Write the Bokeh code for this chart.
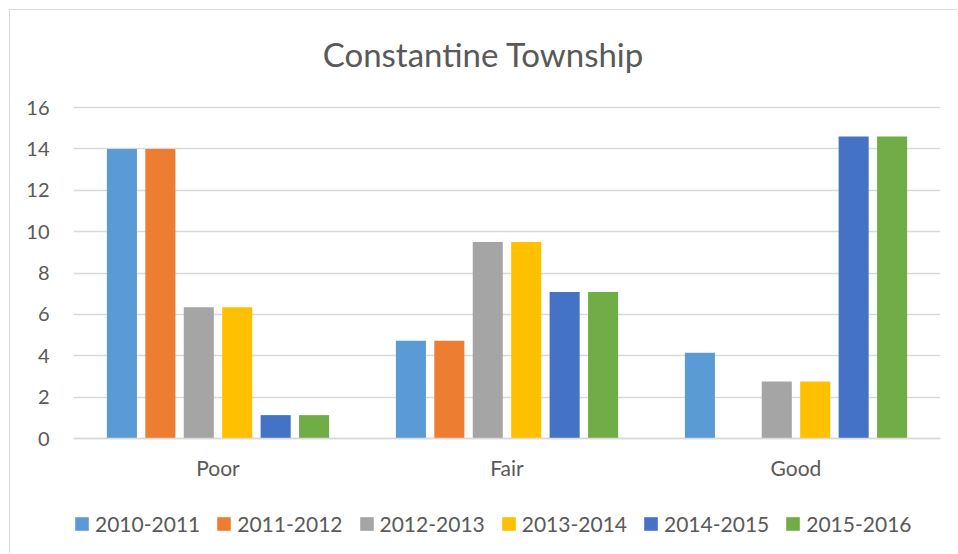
from bokeh.plotting import figure
from bokeh.models import FactorRange, Legend, LegendItem, ColumnDataSource, Label
from bokeh.transform import dodge
from bokeh.embed import file_html
from bokeh.resources import INLINE

categories = ["Poor", "Fair", "Good"]
series_names = ["2010-2011", "2011-2012", "2012-2013", "2013-2014", "2014-2015", "2015-2016"]
s2010_2011 = [14.0, 4.72, 4.14]
s2011_2012 = [14.0, 4.72, 0.0]
s2012_2013 = [6.35, 9.5, 2.75]
s2013_2014 = [6.35, 9.5, 2.75]
s2014_2015 = [1.13, 7.08, 14.6]
s2015_2016 = [1.13, 7.08, 14.6]
y_ticks = [0, 2, 4, 6, 8, 10, 12, 14, 16]
colors = ["#5B9BD5", "#ED7D31", "#A5A5A5", "#FFC000", "#4472C4", "#70AD47"]
title_text = "Constantine Township"

series = [s2010_2011, s2011_2012, s2012_2013, s2013_2014, s2014_2015, s2015_2016]
data = {"cat": categories}
for name, vals in zip(series_names, series):
    data[name] = vals
src = ColumnDataSource(data)

FONT = "Lato"
TXT = "#595959"

W, H = 948, 544
# frame spans the full height; value 16 sits 97px below the top, value 0 sits 116px above the bottom
px_per_unit = 331 / 16
y_end = 16 + 97 / px_per_unit
y_start = -116 / px_per_unit

p = figure(x_range=FactorRange(*categories), y_range=(y_start, y_end),
           width=W, height=H, output_backend="svg", toolbar_location=None,
           min_border_left=63, min_border_right=18, min_border_top=0, min_border_bottom=0,
           styles={"border-left": "1px solid #d9d9d9", "border-top": "1px solid #d9d9d9",
                   "margin-left": "9px", "margin-top": "9px"})

pitch = 0.133
bw = 0.104
items = []
for i, (name, col) in enumerate(zip(series_names, colors)):
    r = p.vbar(x=dodge("cat", (i - 2.5) * pitch, range=p.x_range), top=name, width=bw,
               source=src, fill_color=col, line_color=None)
    items.append(LegendItem(label=name, renderers=[r]))

legend = Legend(items=items, orientation="horizontal", location=(0, 18),
                label_text_font=FONT, label_text_font_size="21px", label_text_color=TXT,
                glyph_width=17, glyph_height=17, label_standoff=5, spacing=15,
                border_line_color=None, background_fill_alpha=0, margin=0, padding=0)
p.add_layout(legend, "center")

title = Label(x=410, y=501, x_units="screen", y_units="screen", text=title_text,
              text_align="center", text_baseline="alphabetic", text_font=FONT,
              text_font_size="33px", text_color=TXT)
p.add_layout(title)

p.outline_line_color = None
p.xgrid.grid_line_color = None
p.ygrid.grid_line_color = "#d9d9d9"
p.ygrid.grid_line_width = 1.3
p.yaxis.ticker = y_ticks
p.yaxis.axis_line_color = None
p.yaxis.major_tick_line_color = None
p.yaxis.minor_tick_line_color = None
p.yaxis.major_label_text_font = FONT
p.yaxis.major_label_text_font_size = "20px"
p.yaxis.major_label_text_color = TXT
p.yaxis.major_label_standoff = 18

p.xaxis.fixed_location = 0
p.xaxis.axis_line_color = "#d9d9d9"
p.xaxis.axis_line_width = 1.3
p.xaxis.major_tick_line_color = None
p.xaxis.minor_tick_line_color = None
p.xaxis.major_label_text_font = FONT
p.xaxis.major_label_text_font_size = "21px"
p.xaxis.major_label_text_color = TXT
p.xaxis.major_label_standoff = 10

open("out.html", "w").write(file_html(p, INLINE))
